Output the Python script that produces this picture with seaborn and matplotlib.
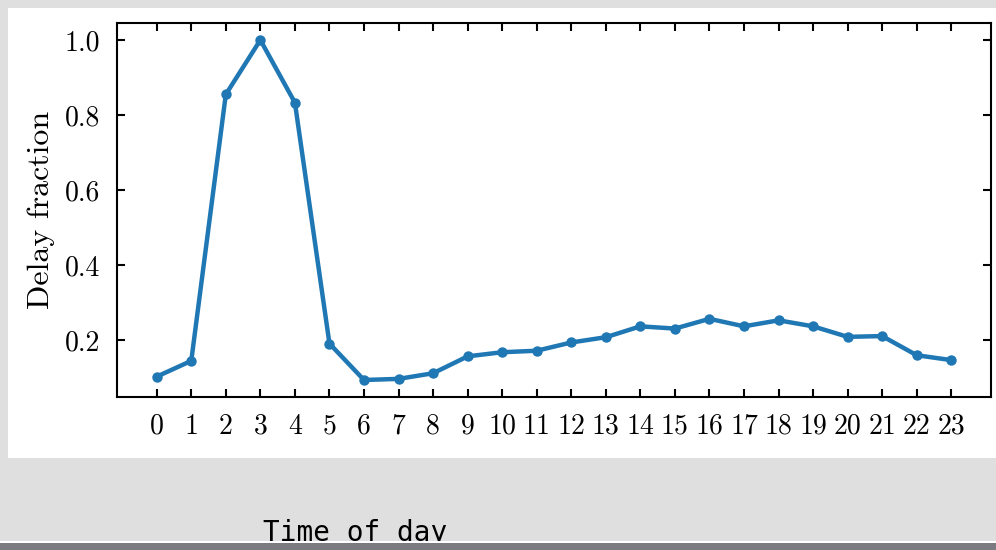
import matplotlib
matplotlib.use("Agg")
import matplotlib.pyplot as plt
import seaborn as sns
import pandas as pd
from matplotlib.patches import Rectangle

hours = list(range(24))
delay_fraction = [0.103, 0.145, 0.855, 1.0, 0.833, 0.191, 0.094, 0.097, 0.112,
                  0.157, 0.168, 0.172, 0.194, 0.208, 0.237, 0.231, 0.257, 0.237,
                  0.253, 0.237, 0.209, 0.211, 0.160, 0.147]
y_ticks = [0.2, 0.4, 0.6, 0.8, 1.0]
y_tick_labels = ["0.2", "0.4", "0.6", "0.8", "1.0"]
x_label = "Time of day"
y_label = "Delay fraction"

sns.set_style("ticks")
plt.rcParams["font.family"] = ["cmr10", "DejaVu Serif"]
plt.rcParams["axes.unicode_minus"] = False
plt.rcParams["text.color"] = "black"
plt.rcParams["axes.labelcolor"] = "black"
plt.rcParams["xtick.color"] = "black"
plt.rcParams["ytick.color"] = "black"

df = pd.DataFrame({"hour": hours, "delay": delay_fraction})

fig = plt.figure(figsize=(9.96, 5.5), dpi=100)
fig.patch.set_facecolor("#dfdfdf")
W, H = 996, 550
# white panel
fig.patches.append(Rectangle((8 / W, (H - 458) / H), (W - 8) / W, (458 - 8) / H,
                             transform=fig.transFigure, facecolor="white",
                             edgecolor="none", zorder=-5))

ax = fig.add_axes([117 / W, (H - 397) / H, (991 - 117) / W, (397 - 23) / H])
ax.set_facecolor("white")
sns.lineplot(data=df, x="hour", y="delay", ax=ax, color="#1f77b4", linewidth=3.2,
             marker="o", markersize=7.5, markeredgewidth=0)

ax.set_xticks(hours)
ax.set_xticklabels([str(h) for h in hours])
ax.set_yticks(y_ticks)
ax.set_yticklabels(y_tick_labels)
ax.set_xlabel("")
ax.set_ylabel(y_label, fontsize=23)
ax.yaxis.set_label_coords(-0.071, 0.5)

for s in ax.spines.values():
    s.set_visible(True)
    s.set_linewidth(1.5)
    s.set_color("black")
ax.tick_params(axis="both", which="major", direction="in", length=6, width=1.5,
               labelsize=20, top=True, right=True, color="black",
               labelcolor="black")
ax.tick_params(axis="x", pad=12)
ax.tick_params(axis="y", pad=12)

# x label text in monospace, partly covered by the bottom bar
fig.text(263 / W, (H - 541) / H, x_label, fontsize=20, family="DejaVu Sans Mono",
         ha="left", va="baseline", color="black", zorder=3)
# bottom bars
fig.patches.append(Rectangle((0, 0), 1, 7 / H, transform=fig.transFigure,
                             facecolor="#7a7a80", edgecolor="none", zorder=10))
fig.patches.append(Rectangle((0, 7 / H), 1, 2 / H, transform=fig.transFigure,
                             facecolor="white", edgecolor="none", zorder=10))

fig.savefig("out.png", dpi=100, facecolor=fig.get_facecolor())
